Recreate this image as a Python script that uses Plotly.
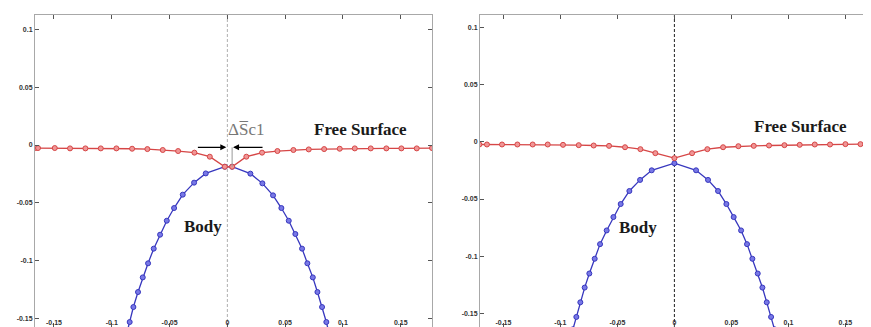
import plotly.graph_objects as go

# ---------------- data ----------------
# Left panel: free surface (red)
fs1_x = [-0.1660, -0.1638, -0.1493, -0.1361, -0.1228, -0.1095, -0.0960, -0.0824, -0.0692, -0.0559,
         -0.0426, -0.0285, -0.0152, -0.0022, 0.0041, 0.0164, 0.0300, 0.0433, 0.0571, 0.0704,
         0.0837, 0.0972, 0.1102, 0.1240, 0.1375, 0.1505, 0.1638, 0.1770]
fs1_y = [-0.0026, -0.0026, -0.0026, -0.0029, -0.0029, -0.0029, -0.0029, -0.0032, -0.0035, -0.0043,
         -0.0052, -0.0066, -0.0101, -0.0188, -0.0188, -0.0101, -0.0066, -0.0052, -0.0043, -0.0038,
         -0.0035, -0.0032, -0.0029, -0.0029, -0.0029, -0.0029, -0.0029, -0.0026]
# Left panel: body (blue)
b1_x = [-0.0878, -0.0845, -0.0813, -0.0773, -0.0732, -0.0686, -0.0637, -0.0582, -0.0524, -0.0461,
        -0.0386, -0.0288, -0.0187, -0.0022, 0.0041, 0.0199, 0.0303, 0.0395, 0.0467, 0.0531,
        0.0588, 0.0646, 0.0692, 0.0739, 0.0779, 0.0819, 0.0856, 0.0888]
b1_y = [-0.1664, -0.1534, -0.1404, -0.1274, -0.1147, -0.1025, -0.0898, -0.0777, -0.0656, -0.0546,
        -0.0430, -0.0326, -0.0246, -0.0188, -0.0188, -0.0248, -0.0332, -0.0436, -0.0546, -0.0656,
        -0.0771, -0.0898, -0.1025, -0.1147, -0.1274, -0.1404, -0.1534, -0.1664]

# Right panel: free surface (red)
fs2_x = [-0.1710, -0.1644, -0.1512, -0.1377, -0.1243, -0.1111, -0.0977, -0.0839, -0.0708, -0.0573,
         -0.0433, -0.0298, -0.0167, 0.0000, 0.0155, 0.0289, 0.0427, 0.0561, 0.0696, 0.0830,
         0.0965, 0.1099, 0.1231, 0.1365, 0.1500, 0.1632, 0.1766]
fs2_y = [-0.0023, -0.0023, -0.0023, -0.0023, -0.0023, -0.0023, -0.0026, -0.0029, -0.0032, -0.0035,
         -0.0047, -0.0064, -0.0099, -0.0143, -0.0099, -0.0064, -0.0047, -0.0038, -0.0035, -0.0032,
         -0.0029, -0.0026, -0.0023, -0.0023, -0.0020, -0.0020, -0.0020]
# Right panel: body (blue)
b2_x = [-0.0890, -0.0860, -0.0825, -0.0787, -0.0746, -0.0699, -0.0652, -0.0594, -0.0535, -0.0471,
        -0.0395, -0.0301, -0.0199, 0.0000, 0.0190, 0.0295, 0.0383, 0.0456, 0.0520, 0.0585,
        0.0637, 0.0684, 0.0731, 0.0772, 0.0810, 0.0848, 0.0878]
b2_y = [-0.1640, -0.1532, -0.1404, -0.1275, -0.1152, -0.1023, -0.0895, -0.0775, -0.0658, -0.0544,
        -0.0430, -0.0333, -0.0249, -0.0187, -0.0249, -0.0333, -0.0430, -0.0544, -0.0658, -0.0775,
        -0.0895, -0.1023, -0.1152, -0.1275, -0.1404, -0.1532, -0.1640]

x_tickvals = [-0.15, -0.1, -0.05, 0, 0.05, 0.1, 0.15]
x_ticktext = ["-0.15", "-0.1", "-0.05", "0", "0.05", "0.1", "0.15"]
y_tickvals = [-0.15, -0.1, -0.05, 0, 0.05, 0.1]
y_ticktext = ["-0.15", "-0.1", "-0.05", "0", "0.05", "0.1"]

RED_LINE = "rgb(214,70,70)"
RED_FILL = "rgb(240,150,150)"
BLUE_LINE = "rgb(55,55,190)"
BLUE_FILL = "rgb(120,120,230)"

W, H = 871, 327

fig = go.Figure()

def add_panel(fsx, fsy, bx, by, xa, ya):
    fig.add_trace(go.Scatter(x=bx, y=by, mode="lines+markers", xaxis=xa, yaxis=ya,
                             line=dict(color=BLUE_LINE, width=1.3),
                             marker=dict(symbol="circle", size=5, color=BLUE_FILL,
                                         line=dict(color=BLUE_LINE, width=1)),
                             showlegend=False))
    fig.add_trace(go.Scatter(x=fsx, y=fsy, mode="lines+markers", xaxis=xa, yaxis=ya,
                             line=dict(color=RED_LINE, width=1.3),
                             marker=dict(symbol="circle", size=5, color=RED_FILL,
                                         line=dict(color=RED_LINE, width=1)),
                             showlegend=False))

add_panel(fs1_x, fs1_y, b1_x, b1_y, "x", "y")
add_panel(fs2_x, fs2_y, b2_x, b2_y, "x2", "y2")

axis_common = dict(showgrid=False, zeroline=False, showline=True, linecolor="#a8a8a8",
                   linewidth=1, mirror="ticks", ticks="inside", ticklen=4, tickcolor="#555",
                   tickfont=dict(family="Arial", size=7, color="#333", weight="bold"),
                   automargin=False)
xaxis_extra = dict(ticklabelstandoff=-11)

fig.update_layout(
    width=W, height=H, margin=dict(l=0, r=0, t=0, b=0),
    paper_bgcolor="white", plot_bgcolor="white",
    xaxis=dict(domain=[27 / W, 424 / W], range=[-0.1664, 0.177], anchor="y",
               tickvals=x_tickvals, ticktext=x_ticktext, **axis_common, **xaxis_extra),
    yaxis=dict(domain=[1 - 319 / H, 1 - 7 / H], range=[-0.1577, 0.1127], anchor="x",
               tickvals=y_tickvals, ticktext=y_ticktext, **axis_common),
    xaxis2=dict(domain=[472 / W, 869 / W], range=[-0.1705, 0.1777], anchor="y2",
                tickvals=x_tickvals, ticktext=x_ticktext, **axis_common, **xaxis_extra),
    yaxis2=dict(domain=[1 - 319 / H, 1 - 7 / H], range=[-0.162, 0.111], anchor="x2",
                tickvals=y_tickvals, ticktext=y_ticktext, **axis_common),
)

# dashed centre lines
fig.add_shape(type="line", xref="x", yref="y domain", x0=0, x1=0, y0=0, y1=1,
              line=dict(color="#b0b0b0", width=1, dash="3px,2px"), layer="below")
fig.add_shape(type="line", xref="x2", yref="y2 domain", x0=0, x1=0, y0=0, y1=1,
              line=dict(color="#222222", width=1, dash="3px,2px"), layer="below")

# vertical gray marker line for ΔSc1
fig.add_shape(type="line", xref="x", yref="y", x0=0.0041, x1=0.0041, y0=-0.0020, y1=-0.0188,
              line=dict(color="#999999", width=1))

serif = "Liberation Serif"
anns = [
    dict(xref="x", yref="y", x=0.115, y=0.0135, text="<b>Free Surface</b>"),
    dict(xref="x", yref="y", x=-0.0215, y=-0.0705, text="<b>Body</b>"),
    dict(xref="x2", yref="y2", x=0.111, y=0.0135, text="<b>Free Surface</b>"),
    dict(xref="x2", yref="y2", x=-0.032, y=-0.0745, text="<b>Body</b>"),
]
for a in anns:
    fig.add_annotation(**a, showarrow=False, font=dict(family=serif, size=17, color="#1a1a1a"))

fig.add_annotation(xref="x", yref="y", x=0.0165, y=0.0135, text="\u0394S\u0305c1", showarrow=False,
                   font=dict(family=serif, size=17, color="#777777"))

# arrows
fig.add_annotation(xref="x", yref="y", axref="x", ayref="y", x=-0.0009, y=-0.0020,
                   ax=-0.0268, ay=-0.0020, text="", showarrow=True, arrowhead=2,
                   arrowsize=1, arrowwidth=1.2, arrowcolor="black")
fig.add_annotation(xref="x", yref="y", axref="x", ayref="y", x=0.0049, y=-0.0020,
                   ax=0.0317, ay=-0.0020, text="", showarrow=True, arrowhead=2,
                   arrowsize=1, arrowwidth=1.2, arrowcolor="black")

fig.write_html("out.html")
